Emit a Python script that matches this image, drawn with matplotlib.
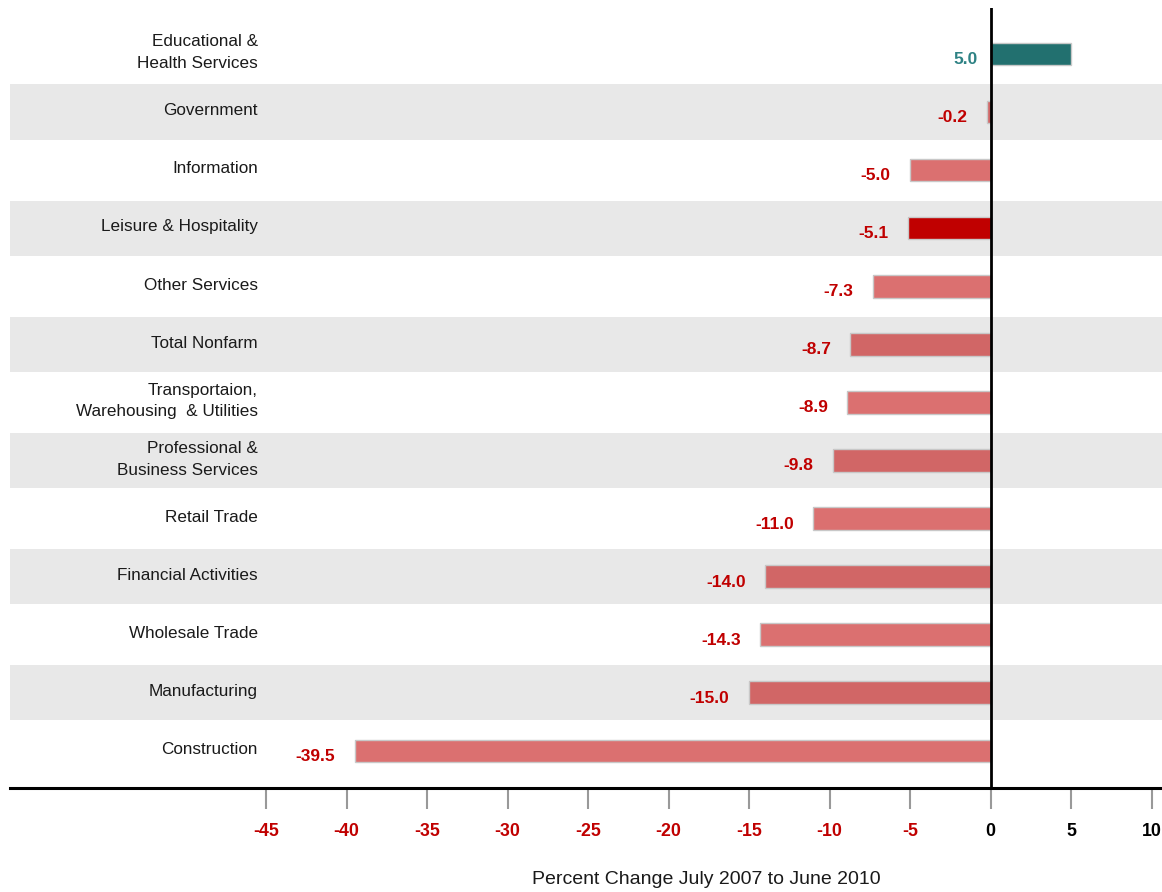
import numpy as np
import matplotlib
matplotlib.use("Agg")
import matplotlib.pyplot as plt

plt.rcParams["font.family"] = ["Liberation Sans", "DejaVu Sans"]

categories = [
    "Educational &\nHealth Services",
    "Government",
    "Information",
    "Leisure & Hospitality",
    "Other Services",
    "Total Nonfarm",
    "Transportaion,\nWarehousing  & Utilities",
    "Professional &\nBusiness Services",
    "Retail Trade",
    "Financial Activities",
    "Wholesale Trade",
    "Manufacturing",
    "Construction",
]
values = [5.0, -0.2, -5.0, -5.1, -7.3, -8.7, -8.9, -9.8, -11.0, -14.0, -14.3, -15.0, -39.5]
highlight = "Leisure & Hospitality"
xticks = [-45, -40, -35, -30, -25, -20, -15, -10, -5, 0, 5, 10]

RED = "#C00000"
TEAL = "#22706F"
TEAL_TEXT = "#2E8284"
BAND = "#E8E8E8"

fig = plt.figure(figsize=(11.62, 8.92), dpi=100)
ax = fig.add_axes([10 / 1162, 104 / 892, 1152 / 1162, 780 / 892])

n = len(categories)
y = np.arange(n)

# alternating grey bands behind every second row
for i in range(1, n, 2):
    ax.axhspan(i - 0.475, i + 0.475, color=BAND, lw=0, zorder=0)

for yi, v, cat in zip(y, values, categories):
    if v > 0:
        fc, alpha = TEAL, 1.0
    elif cat == highlight:
        fc, alpha = RED, 1.0
    else:
        fc, alpha = RED, 0.56
    ax.barh(yi, v, height=0.39, color=fc, alpha=alpha, zorder=2)
    ax.barh(yi, v, height=0.39, fill=False, edgecolor="#C8C8C8", lw=1, zorder=2)

    if v < 0:
        ax.annotate(f"{v:.1f}", (v, yi), xytext=(-14, -4), textcoords="offset points",
                    ha="right", va="center", color=RED, fontsize=12.5, fontweight="bold")
    else:
        ax.annotate(f"{v:.1f}", (0, yi), xytext=(-9, -4), textcoords="offset points",
                    ha="right", va="center", color=TEAL_TEXT, fontsize=12.5, fontweight="bold")

    ax.text(-45.5, yi - 0.02, cat, ha="right", va="center", multialignment="right",
            fontsize=12.3, color="#1a1a1a", linespacing=1.55)

ax.axvline(0, color="black", lw=2, zorder=3)

ax.set_xlim(-60.9, 10.65)
ax.set_ylim(n - 1 + 0.64, -0.79)

ax.set_xticks(xticks)
ax.set_xticklabels([str(t) for t in xticks], fontsize=12.8, fontweight="bold")
for lbl, t in zip(ax.get_xticklabels(), xticks):
    lbl.set_color(RED if t < 0 else "black")
ax.tick_params(axis="x", direction="out", length=15, width=1.5, color="#999999", pad=10)
ax.set_yticks([])

for side in ["top", "left", "right"]:
    ax.spines[side].set_visible(False)
ax.spines["bottom"].set_linewidth(2.2)
ax.spines["bottom"].set_color("black")

fig.text(706 / 1162, 1 - 880 / 892, "Percent Change July 2007 to June 2010",
         ha="center", va="center", fontsize=14, color="#1a1a1a")

fig.savefig("out.png", dpi=100)
